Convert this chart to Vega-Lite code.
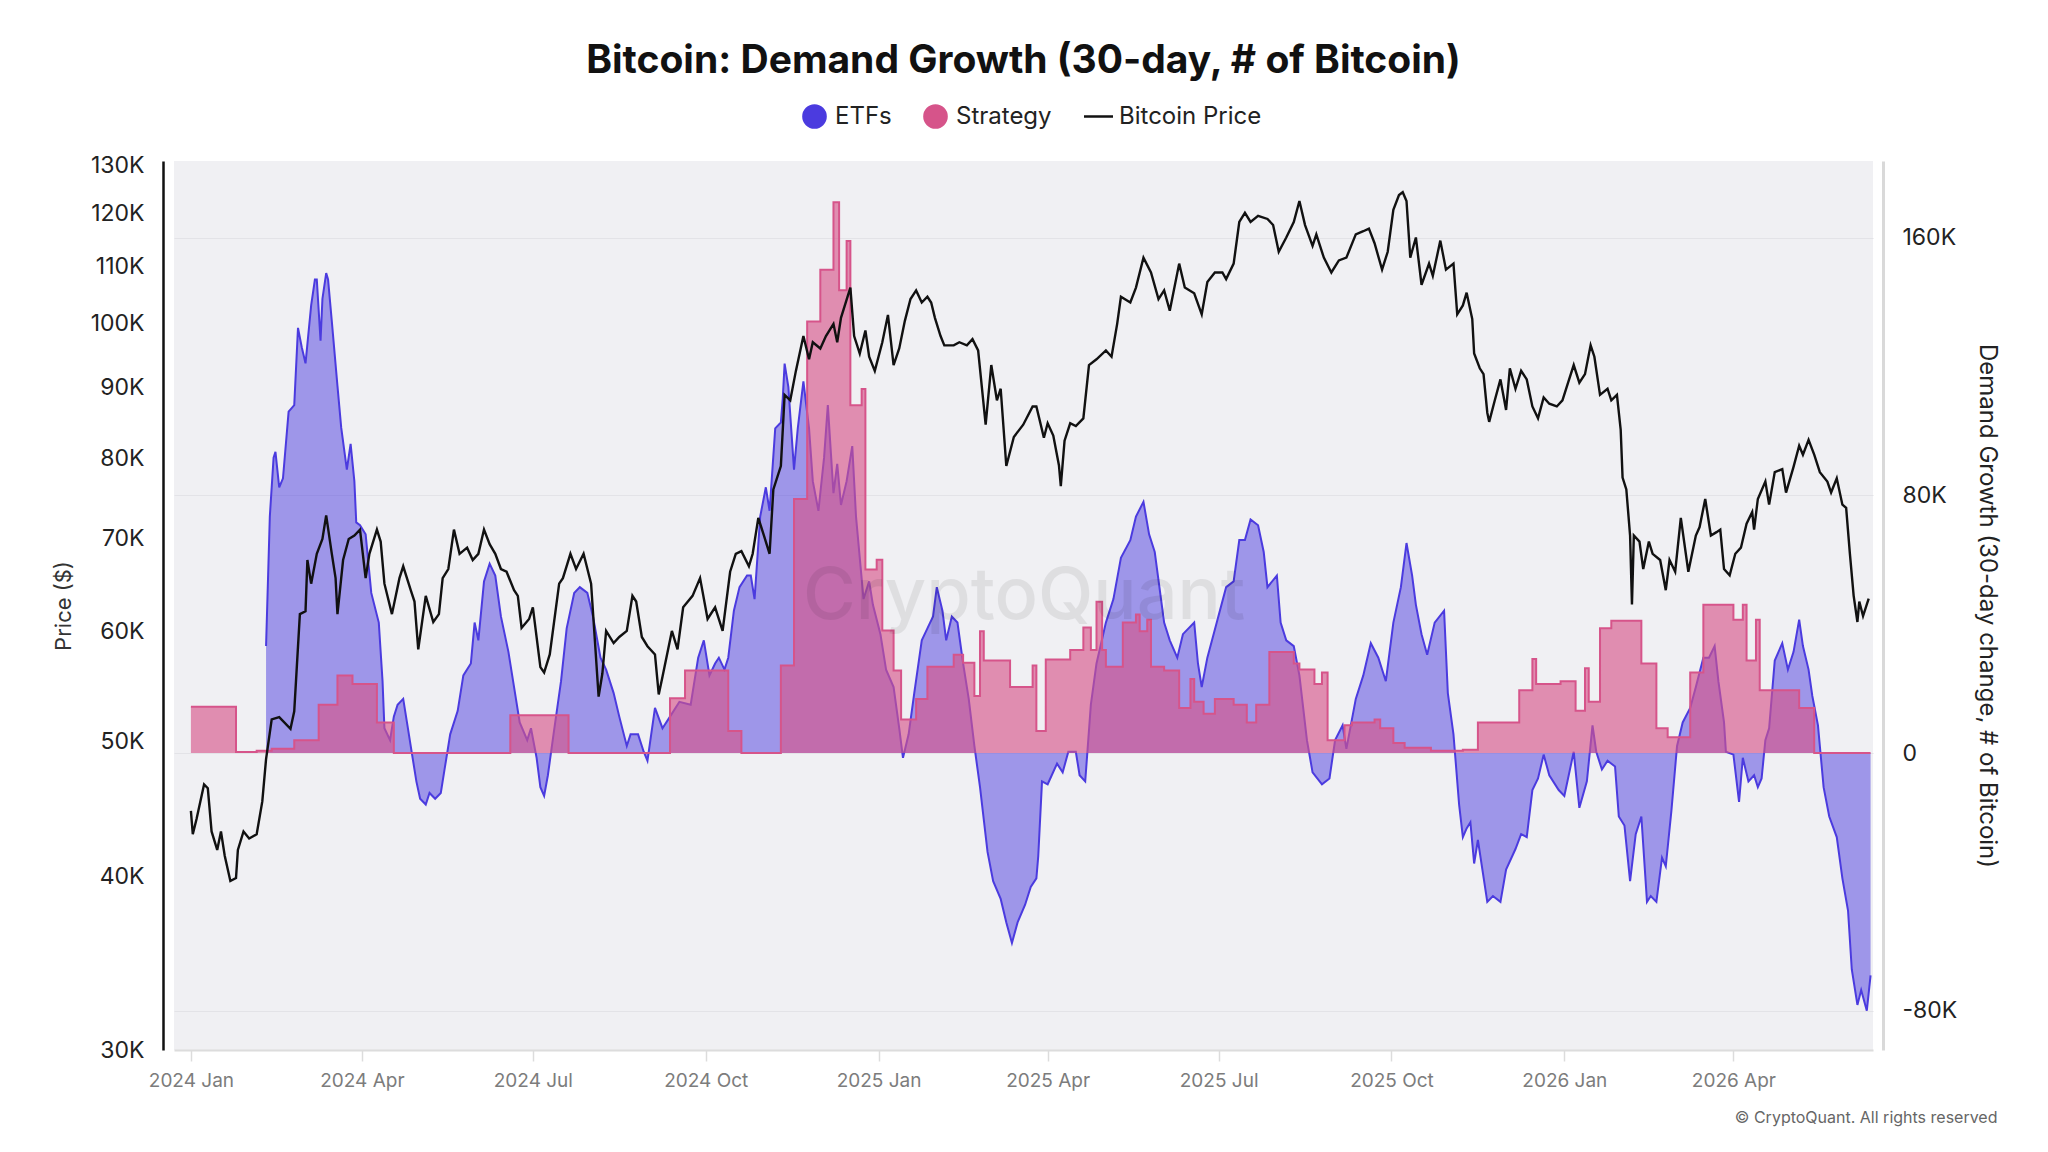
{
  "$schema": "https://vega.github.io/schema/vega-lite/v6.json",
  "autosize": {"type": "none"},
  "width": 1699,
  "height": 889,
  "padding": {"left": 174, "top": 161, "right": 175, "bottom": 102},
  "background": "#ffffff",
  "title": {
    "text": "Bitcoin: Demand Growth (30-day, # of Bitcoin)",
    "font": "Inter",
    "fontSize": 39,
    "fontWeight": 700,
    "color": "#111111",
    "anchor": "middle",
    "offset": 23
  },
  "config": {
    "font": "Inter",
    "view": {"fill": "#f0f0f3", "stroke": null}
  },
  "datasets": {
    "price": [
      {"date": "2024-01-01", "price": 44600}, {"date": "2024-01-02", "price": 42900}, {"date": "2024-01-04", "price": 44000},
      {"date": "2024-01-08", "price": 46600}, {"date": "2024-01-10", "price": 46300}, {"date": "2024-01-12", "price": 43100},
      {"date": "2024-01-15", "price": 41800}, {"date": "2024-01-17", "price": 43100}, {"date": "2024-01-19", "price": 41400},
      {"date": "2024-01-22", "price": 39700}, {"date": "2024-01-25", "price": 39900}, {"date": "2024-01-26", "price": 41800},
      {"date": "2024-01-29", "price": 43100}, {"date": "2024-02-01", "price": 42600}, {"date": "2024-02-05", "price": 42900},
      {"date": "2024-02-08", "price": 45300}, {"date": "2024-02-10", "price": 48600}, {"date": "2024-02-13", "price": 51900},
      {"date": "2024-02-17", "price": 52100}, {"date": "2024-02-23", "price": 51100}, {"date": "2024-02-25", "price": 52600},
      {"date": "2024-02-28", "price": 61800}, {"date": "2024-03-02", "price": 62100}, {"date": "2024-03-03", "price": 67600},
      {"date": "2024-03-05", "price": 65000}, {"date": "2024-03-08", "price": 68300}, {"date": "2024-03-11", "price": 70000},
      {"date": "2024-03-13", "price": 72800}, {"date": "2024-03-16", "price": 68300}, {"date": "2024-03-18", "price": 65600},
      {"date": "2024-03-19", "price": 61800}, {"date": "2024-03-22", "price": 67600}, {"date": "2024-03-25", "price": 70000},
      {"date": "2024-03-28", "price": 70400}, {"date": "2024-03-31", "price": 71100}, {"date": "2024-04-03", "price": 65600},
      {"date": "2024-04-05", "price": 68300}, {"date": "2024-04-09", "price": 71100}, {"date": "2024-04-11", "price": 69700},
      {"date": "2024-04-13", "price": 65000}, {"date": "2024-04-17", "price": 61800}, {"date": "2024-04-21", "price": 65600},
      {"date": "2024-04-23", "price": 66900}, {"date": "2024-04-27", "price": 64300}, {"date": "2024-04-29", "price": 63100},
      {"date": "2024-05-01", "price": 58300}, {"date": "2024-05-05", "price": 63700}, {"date": "2024-05-09", "price": 61000},
      {"date": "2024-05-12", "price": 61800}, {"date": "2024-05-14", "price": 65600}, {"date": "2024-05-17", "price": 66600},
      {"date": "2024-05-20", "price": 71100}, {"date": "2024-05-23", "price": 68300}, {"date": "2024-05-27", "price": 69000},
      {"date": "2024-05-30", "price": 67600}, {"date": "2024-06-02", "price": 68300}, {"date": "2024-06-05", "price": 71100},
      {"date": "2024-06-08", "price": 69400}, {"date": "2024-06-11", "price": 68300}, {"date": "2024-06-14", "price": 66600},
      {"date": "2024-06-17", "price": 66300}, {"date": "2024-06-21", "price": 64300}, {"date": "2024-06-23", "price": 63700},
      {"date": "2024-06-25", "price": 60400}, {"date": "2024-06-29", "price": 61300}, {"date": "2024-07-01", "price": 62500},
      {"date": "2024-07-05", "price": 56600}, {"date": "2024-07-07", "price": 56100}, {"date": "2024-07-10", "price": 57800},
      {"date": "2024-07-15", "price": 65000}, {"date": "2024-07-17", "price": 65600}, {"date": "2024-07-21", "price": 68300},
      {"date": "2024-07-24", "price": 66600}, {"date": "2024-07-28", "price": 68300}, {"date": "2024-08-01", "price": 65000},
      {"date": "2024-08-05", "price": 53900}, {"date": "2024-08-07", "price": 56000}, {"date": "2024-08-09", "price": 60100},
      {"date": "2024-08-13", "price": 58900}, {"date": "2024-08-16", "price": 59500}, {"date": "2024-08-20", "price": 60100},
      {"date": "2024-08-23", "price": 63700}, {"date": "2024-08-25", "price": 63100}, {"date": "2024-08-28", "price": 59500},
      {"date": "2024-08-31", "price": 58600}, {"date": "2024-09-04", "price": 57800}, {"date": "2024-09-06", "price": 54100},
      {"date": "2024-09-08", "price": 55700}, {"date": "2024-09-13", "price": 60100}, {"date": "2024-09-16", "price": 58300},
      {"date": "2024-09-19", "price": 62500}, {"date": "2024-09-24", "price": 63700}, {"date": "2024-09-28", "price": 65600},
      {"date": "2024-10-02", "price": 61300}, {"date": "2024-10-06", "price": 62500}, {"date": "2024-10-10", "price": 60100},
      {"date": "2024-10-14", "price": 66300}, {"date": "2024-10-17", "price": 68300}, {"date": "2024-10-20", "price": 68600},
      {"date": "2024-10-24", "price": 66900}, {"date": "2024-10-26", "price": 68300}, {"date": "2024-10-29", "price": 72500},
      {"date": "2024-11-01", "price": 70400}, {"date": "2024-11-04", "price": 68300}, {"date": "2024-11-06", "price": 76000},
      {"date": "2024-11-10", "price": 79000}, {"date": "2024-11-12", "price": 88900}, {"date": "2024-11-15", "price": 88100},
      {"date": "2024-11-18", "price": 92500}, {"date": "2024-11-22", "price": 98000}, {"date": "2024-11-25", "price": 94300},
      {"date": "2024-11-27", "price": 97000}, {"date": "2024-12-01", "price": 96000}, {"date": "2024-12-04", "price": 98000},
      {"date": "2024-12-08", "price": 100000}, {"date": "2024-12-10", "price": 97000}, {"date": "2024-12-12", "price": 101000},
      {"date": "2024-12-17", "price": 106200}, {"date": "2024-12-19", "price": 98000}, {"date": "2024-12-22", "price": 95200},
      {"date": "2024-12-25", "price": 98900}, {"date": "2024-12-27", "price": 94700}, {"date": "2024-12-30", "price": 92500},
      {"date": "2025-01-03", "price": 97000}, {"date": "2025-01-06", "price": 101500}, {"date": "2025-01-09", "price": 93400},
      {"date": "2025-01-12", "price": 96000}, {"date": "2025-01-15", "price": 100500}, {"date": "2025-01-18", "price": 104200},
      {"date": "2025-01-21", "price": 105700}, {"date": "2025-01-24", "price": 103600}, {"date": "2025-01-27", "price": 104600},
      {"date": "2025-01-29", "price": 103600}, {"date": "2025-01-31", "price": 101000}, {"date": "2025-02-03", "price": 98000},
      {"date": "2025-02-05", "price": 96500}, {"date": "2025-02-10", "price": 96500}, {"date": "2025-02-13", "price": 97000},
      {"date": "2025-02-17", "price": 96500}, {"date": "2025-02-20", "price": 97500}, {"date": "2025-02-23", "price": 95700},
      {"date": "2025-02-27", "price": 84600}, {"date": "2025-03-02", "price": 93400}, {"date": "2025-03-05", "price": 88100},
      {"date": "2025-03-07", "price": 89800}, {"date": "2025-03-10", "price": 79000}, {"date": "2025-03-14", "price": 82900},
      {"date": "2025-03-19", "price": 84600}, {"date": "2025-03-24", "price": 87200}, {"date": "2025-03-26", "price": 87200},
      {"date": "2025-03-30", "price": 82800}, {"date": "2025-04-01", "price": 84800}, {"date": "2025-04-04", "price": 83100},
      {"date": "2025-04-07", "price": 79100}, {"date": "2025-04-08", "price": 76400}, {"date": "2025-04-10", "price": 82400},
      {"date": "2025-04-13", "price": 84800}, {"date": "2025-04-16", "price": 84400}, {"date": "2025-04-20", "price": 85500},
      {"date": "2025-04-23", "price": 93400}, {"date": "2025-04-27", "price": 94300}, {"date": "2025-05-02", "price": 95700},
      {"date": "2025-05-05", "price": 94700}, {"date": "2025-05-08", "price": 100000}, {"date": "2025-05-10", "price": 104600},
      {"date": "2025-05-15", "price": 103600}, {"date": "2025-05-18", "price": 106200}, {"date": "2025-05-22", "price": 111600},
      {"date": "2025-05-26", "price": 108900}, {"date": "2025-05-30", "price": 104200}, {"date": "2025-06-02", "price": 105700},
      {"date": "2025-06-05", "price": 102200}, {"date": "2025-06-10", "price": 110500}, {"date": "2025-06-13", "price": 106200},
      {"date": "2025-06-18", "price": 105200}, {"date": "2025-06-22", "price": 101600}, {"date": "2025-06-25", "price": 107200},
      {"date": "2025-06-29", "price": 108900}, {"date": "2025-07-03", "price": 108900}, {"date": "2025-07-05", "price": 107700},
      {"date": "2025-07-09", "price": 110500}, {"date": "2025-07-12", "price": 118400}, {"date": "2025-07-15", "price": 120200},
      {"date": "2025-07-18", "price": 118400}, {"date": "2025-07-22", "price": 119600}, {"date": "2025-07-27", "price": 119000},
      {"date": "2025-07-30", "price": 117800}, {"date": "2025-08-02", "price": 112700}, {"date": "2025-08-06", "price": 115400},
      {"date": "2025-08-10", "price": 118400}, {"date": "2025-08-13", "price": 122600}, {"date": "2025-08-16", "price": 117800},
      {"date": "2025-08-20", "price": 113800}, {"date": "2025-08-22", "price": 116000}, {"date": "2025-08-26", "price": 111600},
      {"date": "2025-08-30", "price": 108900}, {"date": "2025-09-03", "price": 111100}, {"date": "2025-09-07", "price": 111600},
      {"date": "2025-09-12", "price": 116000}, {"date": "2025-09-16", "price": 116600}, {"date": "2025-09-19", "price": 117100},
      {"date": "2025-09-22", "price": 114300}, {"date": "2025-09-26", "price": 109400}, {"date": "2025-09-29", "price": 112700},
      {"date": "2025-10-02", "price": 120800}, {"date": "2025-10-05", "price": 123800}, {"date": "2025-10-07", "price": 124400},
      {"date": "2025-10-09", "price": 122600}, {"date": "2025-10-11", "price": 111600}, {"date": "2025-10-14", "price": 115400},
      {"date": "2025-10-17", "price": 106700}, {"date": "2025-10-21", "price": 110500}, {"date": "2025-10-23", "price": 108300},
      {"date": "2025-10-27", "price": 114800}, {"date": "2025-10-30", "price": 109400}, {"date": "2025-11-03", "price": 110500},
      {"date": "2025-11-05", "price": 101600}, {"date": "2025-11-08", "price": 103100}, {"date": "2025-11-10", "price": 105300},
      {"date": "2025-11-13", "price": 100800}, {"date": "2025-11-14", "price": 95200}, {"date": "2025-11-17", "price": 92900},
      {"date": "2025-11-19", "price": 92000}, {"date": "2025-11-21", "price": 86300}, {"date": "2025-11-22", "price": 85000},
      {"date": "2025-11-25", "price": 88100}, {"date": "2025-11-28", "price": 91200}, {"date": "2025-12-01", "price": 86700},
      {"date": "2025-12-03", "price": 92900}, {"date": "2025-12-06", "price": 89800}, {"date": "2025-12-09", "price": 92500},
      {"date": "2025-12-12", "price": 91200}, {"date": "2025-12-15", "price": 87200}, {"date": "2025-12-18", "price": 85500},
      {"date": "2025-12-21", "price": 88500}, {"date": "2025-12-24", "price": 87600}, {"date": "2025-12-28", "price": 87200},
      {"date": "2025-12-31", "price": 88100}, {"date": "2026-01-03", "price": 90700}, {"date": "2026-01-06", "price": 93400},
      {"date": "2026-01-09", "price": 90700}, {"date": "2026-01-12", "price": 92000}, {"date": "2026-01-15", "price": 96500},
      {"date": "2026-01-17", "price": 94700}, {"date": "2026-01-20", "price": 88900}, {"date": "2026-01-24", "price": 89800},
      {"date": "2026-01-26", "price": 88100}, {"date": "2026-01-29", "price": 88900}, {"date": "2026-01-31", "price": 83900},
      {"date": "2026-02-01", "price": 77500}, {"date": "2026-02-03", "price": 76000}, {"date": "2026-02-05", "price": 70400},
      {"date": "2026-02-06", "price": 62800}, {"date": "2026-02-07", "price": 70400}, {"date": "2026-02-10", "price": 69700},
      {"date": "2026-02-12", "price": 66600}, {"date": "2026-02-15", "price": 69700}, {"date": "2026-02-17", "price": 68300},
      {"date": "2026-02-21", "price": 67600}, {"date": "2026-02-24", "price": 64300}, {"date": "2026-02-26", "price": 67600},
      {"date": "2026-03-01", "price": 66300}, {"date": "2026-03-04", "price": 72500}, {"date": "2026-03-08", "price": 66300},
      {"date": "2026-03-12", "price": 70400}, {"date": "2026-03-14", "price": 71400}, {"date": "2026-03-17", "price": 74800},
      {"date": "2026-03-20", "price": 70400}, {"date": "2026-03-23", "price": 70800}, {"date": "2026-03-25", "price": 71100},
      {"date": "2026-03-27", "price": 66600}, {"date": "2026-03-30", "price": 65900}, {"date": "2026-04-02", "price": 68300},
      {"date": "2026-04-05", "price": 69000}, {"date": "2026-04-08", "price": 71800}, {"date": "2026-04-11", "price": 73200},
      {"date": "2026-04-12", "price": 71100}, {"date": "2026-04-14", "price": 74800}, {"date": "2026-04-18", "price": 77000},
      {"date": "2026-04-20", "price": 74100}, {"date": "2026-04-23", "price": 78200}, {"date": "2026-04-27", "price": 78600},
      {"date": "2026-04-29", "price": 75600}, {"date": "2026-05-03", "price": 78900}, {"date": "2026-05-06", "price": 81700},
      {"date": "2026-05-08", "price": 80500}, {"date": "2026-05-11", "price": 82500}, {"date": "2026-05-14", "price": 80500},
      {"date": "2026-05-17", "price": 78200}, {"date": "2026-05-21", "price": 77000}, {"date": "2026-05-23", "price": 75600},
      {"date": "2026-05-26", "price": 77400}, {"date": "2026-05-29", "price": 74100}, {"date": "2026-05-31", "price": 73700},
      {"date": "2026-06-02", "price": 68300}, {"date": "2026-06-04", "price": 63700}, {"date": "2026-06-06", "price": 61000},
      {"date": "2026-06-07", "price": 63100}, {"date": "2026-06-09", "price": 61600}, {"date": "2026-06-11", "price": 62800},
      {"date": "2026-06-12", "price": 63400}
    ],
    "etf": [
      {"date": "2024-02-10", "value": 33200}, {"date": "2024-02-12", "value": 73400}, {"date": "2024-02-14", "value": 91700},
      {"date": "2024-02-15", "value": 93500}, {"date": "2024-02-17", "value": 82500}, {"date": "2024-02-19", "value": 85300},
      {"date": "2024-02-22", "value": 106000}, {"date": "2024-02-25", "value": 108000}, {"date": "2024-02-27", "value": 132000},
      {"date": "2024-02-29", "value": 126000}, {"date": "2024-03-02", "value": 121000}, {"date": "2024-03-05", "value": 139000},
      {"date": "2024-03-07", "value": 147000}, {"date": "2024-03-08", "value": 147000}, {"date": "2024-03-10", "value": 128000},
      {"date": "2024-03-11", "value": 141000}, {"date": "2024-03-13", "value": 149000}, {"date": "2024-03-14", "value": 147000},
      {"date": "2024-03-16", "value": 134000}, {"date": "2024-03-19", "value": 114000}, {"date": "2024-03-21", "value": 101000},
      {"date": "2024-03-24", "value": 88000}, {"date": "2024-03-26", "value": 96000}, {"date": "2024-03-28", "value": 84400},
      {"date": "2024-03-29", "value": 71600}, {"date": "2024-03-31", "value": 70700}, {"date": "2024-04-03", "value": 67900},
      {"date": "2024-04-06", "value": 49700}, {"date": "2024-04-10", "value": 40500}, {"date": "2024-04-12", "value": 22300},
      {"date": "2024-04-13", "value": 7700}, {"date": "2024-04-16", "value": 4000}, {"date": "2024-04-18", "value": 11300},
      {"date": "2024-04-20", "value": 15000}, {"date": "2024-04-23", "value": 16800}, {"date": "2024-04-25", "value": 9500},
      {"date": "2024-04-28", "value": -1500}, {"date": "2024-04-30", "value": -8800}, {"date": "2024-05-02", "value": -14200},
      {"date": "2024-05-05", "value": -16000}, {"date": "2024-05-07", "value": -12400}, {"date": "2024-05-10", "value": -14200},
      {"date": "2024-05-13", "value": -12400}, {"date": "2024-05-15", "value": -5100}, {"date": "2024-05-18", "value": 5800},
      {"date": "2024-05-22", "value": 13100}, {"date": "2024-05-25", "value": 24100}, {"date": "2024-05-29", "value": 27800},
      {"date": "2024-05-31", "value": 40500}, {"date": "2024-06-02", "value": 35000}, {"date": "2024-06-05", "value": 53300},
      {"date": "2024-06-08", "value": 58800}, {"date": "2024-06-11", "value": 55100}, {"date": "2024-06-14", "value": 42400},
      {"date": "2024-06-18", "value": 31400}, {"date": "2024-06-22", "value": 16800}, {"date": "2024-06-24", "value": 9500},
      {"date": "2024-06-28", "value": 4000}, {"date": "2024-06-30", "value": 7700}, {"date": "2024-07-03", "value": -1500},
      {"date": "2024-07-05", "value": -10600}, {"date": "2024-07-07", "value": -13300}, {"date": "2024-07-09", "value": -6900},
      {"date": "2024-07-12", "value": 5800}, {"date": "2024-07-16", "value": 22300}, {"date": "2024-07-19", "value": 38700},
      {"date": "2024-07-23", "value": 49700}, {"date": "2024-07-26", "value": 51500}, {"date": "2024-07-30", "value": 49700},
      {"date": "2024-08-02", "value": 42400}, {"date": "2024-08-06", "value": 29600}, {"date": "2024-08-09", "value": 25900},
      {"date": "2024-08-13", "value": 18600}, {"date": "2024-08-16", "value": 11300}, {"date": "2024-08-20", "value": 2200},
      {"date": "2024-08-22", "value": 5800}, {"date": "2024-08-26", "value": 5800}, {"date": "2024-08-29", "value": 400},
      {"date": "2024-08-31", "value": -2400}, {"date": "2024-09-04", "value": 14000}, {"date": "2024-09-08", "value": 7700},
      {"date": "2024-09-12", "value": 11300}, {"date": "2024-09-17", "value": 15900}, {"date": "2024-09-23", "value": 15000},
      {"date": "2024-09-27", "value": 29600}, {"date": "2024-09-30", "value": 35000}, {"date": "2024-10-03", "value": 24100},
      {"date": "2024-10-06", "value": 27800}, {"date": "2024-10-08", "value": 29600}, {"date": "2024-10-11", "value": 25900},
      {"date": "2024-10-13", "value": 29600}, {"date": "2024-10-16", "value": 44200}, {"date": "2024-10-19", "value": 51500},
      {"date": "2024-10-23", "value": 55100}, {"date": "2024-10-25", "value": 55100}, {"date": "2024-10-27", "value": 47800},
      {"date": "2024-10-30", "value": 73400}, {"date": "2024-11-02", "value": 82500}, {"date": "2024-11-04", "value": 75200},
      {"date": "2024-11-07", "value": 100800}, {"date": "2024-11-10", "value": 102600}, {"date": "2024-11-11", "value": 110000},
      {"date": "2024-11-12", "value": 120900}, {"date": "2024-11-14", "value": 113600}, {"date": "2024-11-17", "value": 88000},
      {"date": "2024-11-19", "value": 100800}, {"date": "2024-11-22", "value": 115400}, {"date": "2024-11-25", "value": 100800},
      {"date": "2024-11-27", "value": 84400}, {"date": "2024-11-30", "value": 75200}, {"date": "2024-12-03", "value": 91700},
      {"date": "2024-12-05", "value": 108000}, {"date": "2024-12-08", "value": 80700}, {"date": "2024-12-10", "value": 89800},
      {"date": "2024-12-12", "value": 77000}, {"date": "2024-12-15", "value": 84400}, {"date": "2024-12-18", "value": 95300},
      {"date": "2024-12-20", "value": 73400}, {"date": "2024-12-24", "value": 47800}, {"date": "2024-12-27", "value": 53300},
      {"date": "2024-12-29", "value": 46000}, {"date": "2025-01-02", "value": 36900}, {"date": "2025-01-05", "value": 25900},
      {"date": "2025-01-09", "value": 20500}, {"date": "2025-01-12", "value": 7700}, {"date": "2025-01-14", "value": -1500},
      {"date": "2025-01-17", "value": 5800}, {"date": "2025-01-20", "value": 18600}, {"date": "2025-01-24", "value": 35000},
      {"date": "2025-01-27", "value": 38700}, {"date": "2025-01-30", "value": 42400}, {"date": "2025-02-01", "value": 51500},
      {"date": "2025-02-04", "value": 44200}, {"date": "2025-02-06", "value": 35000}, {"date": "2025-02-09", "value": 42400},
      {"date": "2025-02-12", "value": 40500}, {"date": "2025-02-15", "value": 27800}, {"date": "2025-02-18", "value": 16800},
      {"date": "2025-02-21", "value": 2200}, {"date": "2025-02-24", "value": -10600}, {"date": "2025-02-28", "value": -30700},
      {"date": "2025-03-03", "value": -39800}, {"date": "2025-03-07", "value": -45300}, {"date": "2025-03-10", "value": -52600},
      {"date": "2025-03-13", "value": -59000}, {"date": "2025-03-16", "value": -52600}, {"date": "2025-03-20", "value": -47100},
      {"date": "2025-03-23", "value": -41600}, {"date": "2025-03-26", "value": -38900}, {"date": "2025-03-27", "value": -32000},
      {"date": "2025-03-29", "value": -8800}, {"date": "2025-04-01", "value": -9700}, {"date": "2025-04-06", "value": -3300},
      {"date": "2025-04-09", "value": -6000}, {"date": "2025-04-12", "value": 400}, {"date": "2025-04-16", "value": 400},
      {"date": "2025-04-18", "value": -6900}, {"date": "2025-04-21", "value": -8800}, {"date": "2025-04-24", "value": 15000},
      {"date": "2025-04-27", "value": 27800}, {"date": "2025-05-02", "value": 40500}, {"date": "2025-05-06", "value": 47800},
      {"date": "2025-05-10", "value": 60600}, {"date": "2025-05-15", "value": 66100}, {"date": "2025-05-18", "value": 73400},
      {"date": "2025-05-22", "value": 78000}, {"date": "2025-05-25", "value": 67900}, {"date": "2025-05-28", "value": 62400},
      {"date": "2025-06-02", "value": 40500}, {"date": "2025-06-05", "value": 35000}, {"date": "2025-06-09", "value": 29600},
      {"date": "2025-06-12", "value": 36900}, {"date": "2025-06-18", "value": 40500}, {"date": "2025-06-20", "value": 27800},
      {"date": "2025-06-22", "value": 20500}, {"date": "2025-06-25", "value": 29600}, {"date": "2025-06-30", "value": 40500},
      {"date": "2025-07-05", "value": 51500}, {"date": "2025-07-09", "value": 53300}, {"date": "2025-07-12", "value": 66100},
      {"date": "2025-07-15", "value": 66100}, {"date": "2025-07-18", "value": 72500}, {"date": "2025-07-22", "value": 70700},
      {"date": "2025-07-25", "value": 62400}, {"date": "2025-07-27", "value": 51500}, {"date": "2025-08-01", "value": 55100},
      {"date": "2025-08-03", "value": 40500}, {"date": "2025-08-06", "value": 35000}, {"date": "2025-08-10", "value": 33200},
      {"date": "2025-08-13", "value": 24100}, {"date": "2025-08-17", "value": 4000}, {"date": "2025-08-20", "value": -6000},
      {"date": "2025-08-25", "value": -9700}, {"date": "2025-08-29", "value": -7900}, {"date": "2025-09-01", "value": 4000},
      {"date": "2025-09-05", "value": 8600}, {"date": "2025-09-07", "value": 1300}, {"date": "2025-09-12", "value": 16800},
      {"date": "2025-09-16", "value": 24100}, {"date": "2025-09-20", "value": 34100}, {"date": "2025-09-24", "value": 29600},
      {"date": "2025-09-28", "value": 22300}, {"date": "2025-10-02", "value": 40500}, {"date": "2025-10-06", "value": 51500},
      {"date": "2025-10-09", "value": 65200}, {"date": "2025-10-12", "value": 55100}, {"date": "2025-10-14", "value": 46000},
      {"date": "2025-10-17", "value": 36900}, {"date": "2025-10-20", "value": 30500}, {"date": "2025-10-24", "value": 40500},
      {"date": "2025-10-29", "value": 44200}, {"date": "2025-10-31", "value": 18600}, {"date": "2025-11-03", "value": 5800},
      {"date": "2025-11-06", "value": -16000}, {"date": "2025-11-08", "value": -26100}, {"date": "2025-11-10", "value": -23400},
      {"date": "2025-11-12", "value": -21500}, {"date": "2025-11-14", "value": -34300}, {"date": "2025-11-16", "value": -27000},
      {"date": "2025-11-21", "value": -46200}, {"date": "2025-11-24", "value": -44400}, {"date": "2025-11-28", "value": -46200},
      {"date": "2025-12-01", "value": -36200}, {"date": "2025-12-06", "value": -29800}, {"date": "2025-12-09", "value": -25200},
      {"date": "2025-12-12", "value": -26100}, {"date": "2025-12-15", "value": -11500}, {"date": "2025-12-18", "value": -7900},
      {"date": "2025-12-21", "value": -500}, {"date": "2025-12-24", "value": -6900}, {"date": "2025-12-29", "value": -11500},
      {"date": "2026-01-01", "value": -13300}, {"date": "2026-01-06", "value": 400}, {"date": "2026-01-09", "value": -17000},
      {"date": "2026-01-13", "value": -8800}, {"date": "2026-01-16", "value": 8600}, {"date": "2026-01-18", "value": 400},
      {"date": "2026-01-21", "value": -5100}, {"date": "2026-01-24", "value": -2400}, {"date": "2026-01-28", "value": -4200},
      {"date": "2026-01-30", "value": -19700}, {"date": "2026-02-02", "value": -22500}, {"date": "2026-02-05", "value": -39800},
      {"date": "2026-02-08", "value": -25200}, {"date": "2026-02-11", "value": -19700}, {"date": "2026-02-14", "value": -46200},
      {"date": "2026-02-16", "value": -44400}, {"date": "2026-02-19", "value": -46200}, {"date": "2026-02-22", "value": -32500},
      {"date": "2026-02-24", "value": -35200}, {"date": "2026-02-27", "value": -17900}, {"date": "2026-03-02", "value": 2200},
      {"date": "2026-03-05", "value": 9500}, {"date": "2026-03-09", "value": 14000}, {"date": "2026-03-12", "value": 20500},
      {"date": "2026-03-16", "value": 29600}, {"date": "2026-03-19", "value": 29600}, {"date": "2026-03-22", "value": 33200},
      {"date": "2026-03-24", "value": 22300}, {"date": "2026-03-27", "value": 9500}, {"date": "2026-03-28", "value": 400},
      {"date": "2026-04-01", "value": -500}, {"date": "2026-04-04", "value": -15200}, {"date": "2026-04-06", "value": -1500},
      {"date": "2026-04-09", "value": -8800}, {"date": "2026-04-12", "value": -6900}, {"date": "2026-04-14", "value": -10600},
      {"date": "2026-04-16", "value": -7900}, {"date": "2026-04-18", "value": 4000}, {"date": "2026-04-20", "value": 7700},
      {"date": "2026-04-23", "value": 28700}, {"date": "2026-04-27", "value": 34100}, {"date": "2026-04-30", "value": 25900},
      {"date": "2026-05-03", "value": 31400}, {"date": "2026-05-06", "value": 41400}, {"date": "2026-05-08", "value": 33200},
      {"date": "2026-05-11", "value": 25900}, {"date": "2026-05-13", "value": 17700}, {"date": "2026-05-16", "value": 8600},
      {"date": "2026-05-19", "value": -10600}, {"date": "2026-05-22", "value": -19700}, {"date": "2026-05-26", "value": -26100},
      {"date": "2026-05-29", "value": -38900}, {"date": "2026-06-01", "value": -48900}, {"date": "2026-06-03", "value": -67200},
      {"date": "2026-06-06", "value": -78200}, {"date": "2026-06-08", "value": -73600}, {"date": "2026-06-11", "value": -80000},
      {"date": "2026-06-13", "value": -69000}
    ],
    "strategy": [
      {"date": "2024-01-01", "value": 14400}, {"date": "2024-01-25", "value": 300}, {"date": "2024-02-05", "value": 700},
      {"date": "2024-02-13", "value": 1300}, {"date": "2024-02-25", "value": 4000}, {"date": "2024-03-09", "value": 15000},
      {"date": "2024-03-19", "value": 24100}, {"date": "2024-03-27", "value": 21400}, {"date": "2024-04-09", "value": 9500},
      {"date": "2024-04-18", "value": 0}, {"date": "2024-06-19", "value": 11700}, {"date": "2024-07-20", "value": 0},
      {"date": "2024-09-12", "value": 17000}, {"date": "2024-09-20", "value": 25600}, {"date": "2024-10-13", "value": 6800},
      {"date": "2024-10-20", "value": 0}, {"date": "2024-11-10", "value": 27200}, {"date": "2024-11-17", "value": 78900},
      {"date": "2024-11-24", "value": 134000}, {"date": "2024-12-01", "value": 150000}, {"date": "2024-12-08", "value": 171000},
      {"date": "2024-12-11", "value": 143700}, {"date": "2024-12-15", "value": 159000}, {"date": "2024-12-17", "value": 108000},
      {"date": "2024-12-23", "value": 113000}, {"date": "2024-12-25", "value": 57000}, {"date": "2024-12-31", "value": 60000},
      {"date": "2025-01-03", "value": 38000}, {"date": "2025-01-09", "value": 25600}, {"date": "2025-01-13", "value": 10400},
      {"date": "2025-01-21", "value": 16800}, {"date": "2025-01-27", "value": 26800}, {"date": "2025-02-10", "value": 30500},
      {"date": "2025-02-15", "value": 28000}, {"date": "2025-02-21", "value": 17700}, {"date": "2025-02-24", "value": 37800},
      {"date": "2025-02-26", "value": 28700}, {"date": "2025-03-12", "value": 20500}, {"date": "2025-03-24", "value": 27200},
      {"date": "2025-03-26", "value": 6800}, {"date": "2025-03-31", "value": 29000}, {"date": "2025-04-13", "value": 32000},
      {"date": "2025-04-20", "value": 39000}, {"date": "2025-04-24", "value": 32000}, {"date": "2025-04-27", "value": 47000},
      {"date": "2025-04-30", "value": 32000}, {"date": "2025-05-02", "value": 26800}, {"date": "2025-05-11", "value": 40500},
      {"date": "2025-05-18", "value": 43000}, {"date": "2025-05-20", "value": 37800}, {"date": "2025-05-24", "value": 41400},
      {"date": "2025-05-26", "value": 26800}, {"date": "2025-06-02", "value": 25600}, {"date": "2025-06-10", "value": 14000},
      {"date": "2025-06-16", "value": 23000}, {"date": "2025-06-18", "value": 15900}, {"date": "2025-06-23", "value": 12200},
      {"date": "2025-06-29", "value": 16800}, {"date": "2025-07-09", "value": 15000}, {"date": "2025-07-16", "value": 9500},
      {"date": "2025-07-21", "value": 15000}, {"date": "2025-07-28", "value": 31400}, {"date": "2025-08-10", "value": 27800},
      {"date": "2025-08-13", "value": 25900}, {"date": "2025-08-21", "value": 21400}, {"date": "2025-08-25", "value": 25000},
      {"date": "2025-08-28", "value": 4000}, {"date": "2025-09-06", "value": 8600}, {"date": "2025-09-10", "value": 9500},
      {"date": "2025-09-22", "value": 10400}, {"date": "2025-09-25", "value": 7700}, {"date": "2025-10-02", "value": 3100},
      {"date": "2025-10-08", "value": 1600}, {"date": "2025-10-22", "value": 700}, {"date": "2025-11-08", "value": 1000},
      {"date": "2025-11-16", "value": 9500}, {"date": "2025-12-08", "value": 19500}, {"date": "2025-12-15", "value": 29200},
      {"date": "2025-12-17", "value": 21400}, {"date": "2025-12-30", "value": 22300}, {"date": "2026-01-07", "value": 13100},
      {"date": "2026-01-12", "value": 26300}, {"date": "2026-01-14", "value": 15900}, {"date": "2026-01-20", "value": 38700},
      {"date": "2026-01-26", "value": 41100}, {"date": "2026-02-11", "value": 27800}, {"date": "2026-02-19", "value": 7700},
      {"date": "2026-02-25", "value": 4900}, {"date": "2026-03-09", "value": 25000}, {"date": "2026-03-16", "value": 46000},
      {"date": "2026-04-01", "value": 41400}, {"date": "2026-04-06", "value": 46000}, {"date": "2026-04-08", "value": 28700},
      {"date": "2026-04-13", "value": 41400}, {"date": "2026-04-15", "value": 19500}, {"date": "2026-05-06", "value": 14000},
      {"date": "2026-05-14", "value": 0}, {"date": "2026-06-13", "value": 0}
    ]
  },
  "encoding": {
    "x": {
      "field": "date",
      "type": "temporal",
      "scale": {
        "type": "utc",
        "domain": [
          {"year": 2023, "month": 12, "date": 23, "utc": true},
          {"year": 2026, "month": 6, "date": 14, "hours": 7, "utc": true}
        ]
      },
      "axis": {
        "values": [
          {"year": 2024, "month": 1, "date": 1, "utc": true},
          {"year": 2024, "month": 4, "date": 1, "utc": true},
          {"year": 2024, "month": 7, "date": 1, "utc": true},
          {"year": 2024, "month": 10, "date": 1, "utc": true},
          {"year": 2025, "month": 1, "date": 1, "utc": true},
          {"year": 2025, "month": 4, "date": 1, "utc": true},
          {"year": 2025, "month": 7, "date": 1, "utc": true},
          {"year": 2025, "month": 10, "date": 1, "utc": true},
          {"year": 2026, "month": 1, "date": 1, "utc": true},
          {"year": 2026, "month": 4, "date": 1, "utc": true}
        ],
        "format": "%Y %b",
        "grid": false,
        "domainColor": "#dcdcdc",
        "domainWidth": 2,
        "tickColor": "#dcdcdc",
        "tickWidth": 1.5,
        "tickSize": 11,
        "labelPadding": 10,
        "labelFontSize": 19,
        "labelColor": "#7c7c7c",
        "labelFont": "Inter",
        "title": "© CryptoQuant. All rights reserved",
        "titleFontSize": 16,
        "titleFontWeight": "normal",
        "titleColor": "#666666",
        "titleX": 1823,
        "titleY": 67,
        "titleAlign": "right",
        "titleBaseline": "middle",
        "titleAngle": 0
      }
    }
  },
  "layer": [
    {
      "encoding": {
        "y": {
          "field": "value",
          "type": "quantitative",
          "scale": {"domain": [-92200, 183800], "nice": false, "zero": false},
          "axis": {
            "orient": "right",
            "values": [-80000, 0, 80000, 160000],
            "labelExpr": "datum.value === 0 ? '0' : (datum.value / 1000) + 'K'",
            "grid": true,
            "gridColor": "#e3e3e7",
            "gridWidth": 1,
            "ticks": false,
            "domain": true,
            "domainColor": "#d9d9d9",
            "domainWidth": 3,
            "offset": 10,
            "labelPadding": 19,
            "labelFontSize": 23,
            "labelColor": "#222222",
            "labelFont": "Inter",
            "title": "Demand Growth (30-day change, # of Bitcoin)",
            "titleFontSize": 24,
            "titleFontWeight": "normal",
            "titleColor": "#222222",
            "titlePadding": 18
          }
        }
      },
      "layer": [
        {
          "data": {"name": "etf"},
          "mark": {"type": "area", "fillOpacity": 0.5, "line": {"strokeWidth": 2}},
          "encoding": {
            "color": {
              "datum": "ETFs",
              "type": "nominal",
              "scale": {
                "domain": ["ETFs", "Strategy", "Bitcoin Price"],
                "range": ["#4b3bdf", "#d6548a", "#111111"]
              },
              "legend": {
                "title": null,
                "orient": "none",
                "direction": "horizontal",
                "legendX": 628,
                "legendY": -57,
                "padding": 0,
                "gridAlign": "none",
                "columnPadding": 27,
                "labelOffset": 8,
                "labelFontSize": 24,
                "labelFont": "Inter",
                "labelColor": "#222222",
                "symbolType": "circle",
                "encode": {
                  "symbols": {
                    "update": {
                      "shape": {"signal": "datum.value === 'Bitcoin Price' ? 'stroke' : 'circle'"},
                      "size": {"signal": "datum.value === 'Bitcoin Price' ? 841 : 490"},
                      "fill": {"signal": "datum.value === 'ETFs' ? '#4b3be2' : datum.value === 'Strategy' ? '#e06a9e' : 'transparent'"},
                      "stroke": {"signal": "datum.value === 'Bitcoin Price' ? '#111111' : 'transparent'"},
                      "strokeWidth": {"value": 2.5},
                      "opacity": {"value": 1},
                      "fillOpacity": {"value": 1},
                      "strokeOpacity": {"value": 1}
                    }
                  }
                }
              }
            }
          }
        },
        {
          "data": {"name": "strategy"},
          "mark": {"type": "area", "interpolate": "step-after", "fillOpacity": 0.64, "line": {"strokeWidth": 2, "interpolate": "step-after"}},
          "encoding": {
            "color": {"datum": "Strategy", "type": "nominal"}
          }
        },
        {
          "data": {"values": [{"date": "2025-03-19T12:00:00Z", "value": 48300, "label": "CryptoQuant"}]},
          "mark": {"type": "text", "font": "Inter", "fontSize": 72, "fontWeight": 500, "color": "#000000", "opacity": 0.07, "baseline": "middle", "align": "center"},
          "encoding": {
            "text": {"field": "label"}
          }
        }
      ]
    },
    {
      "data": {"name": "price"},
      "mark": {"type": "line", "strokeWidth": 2.4},
      "encoding": {
        "y": {
          "field": "price",
          "type": "quantitative",
          "scale": {"type": "log", "domain": [30000, 131000], "nice": false, "zero": false},
          "axis": {
            "orient": "left",
            "values": [30000, 40000, 50000, 60000, 70000, 80000, 90000, 100000, 110000, 120000, 130000],
            "labelExpr": "(datum.value / 1000) + 'K'",
            "grid": false,
            "ticks": false,
            "domain": true,
            "domainColor": "#111111",
            "domainWidth": 2.5,
            "offset": 11,
            "labelPadding": 19,
            "labelFontSize": 23,
            "labelColor": "#222222",
            "labelFont": "Inter",
            "title": "Price ($)",
            "titleFontSize": 22,
            "titleFontWeight": "normal",
            "titleColor": "#333333",
            "titlePadding": 15
          }
        },
        "color": {"datum": "Bitcoin Price", "type": "nominal"}
      }
    }
  ],
  "resolve": {"scale": {"y": "independent"}}
}
